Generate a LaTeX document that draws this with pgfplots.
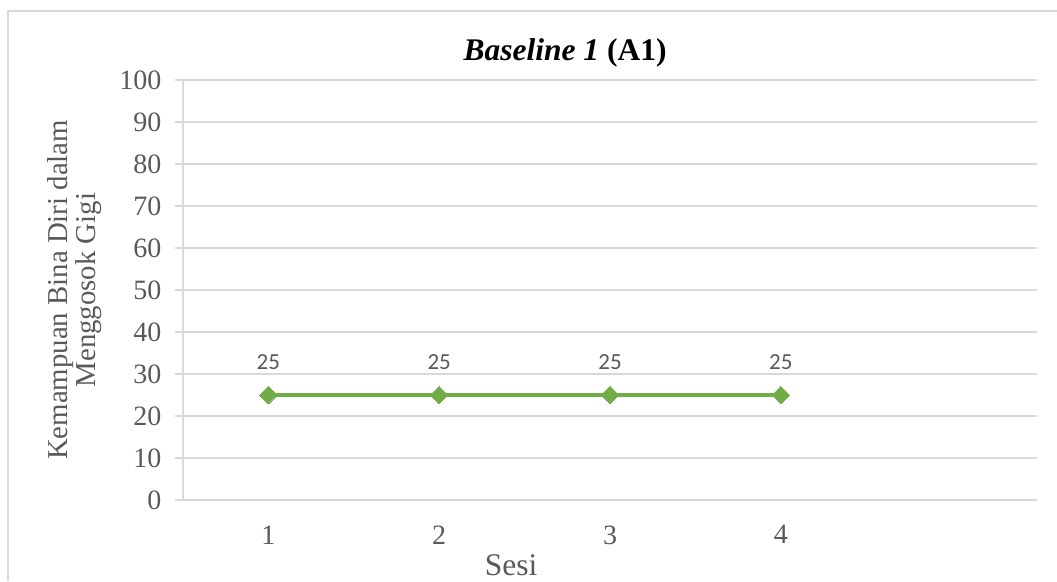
\documentclass[border=0pt]{standalone}
\usepackage{pgfplots}
\pgfplotsset{compat=1.18}
\usepackage{fontspec}
\setmainfont{Liberation Serif}
\newfontfamily\labelfont{Carlito}
\definecolor{gridgray}{HTML}{D9D9D9}
\definecolor{textgray}{HTML}{595959}
\definecolor{linegreen}{HTML}{70AD47}

\begin{document}
\begin{tikzpicture}[x=1pt,y=1pt]
  \path[use as bounding box] (0,0) rectangle (1057,581);
  % chart frame (left and top edges)
  \draw[gridgray, line width=1.2pt] (8,0) -- (8,570) -- (1057,570);

  \begin{axis}[
    at={(183pt,81pt)}, anchor=south west,
    scale only axis,
    width=854pt, height=420pt,
    xmin=0.5, xmax=5.5,
    ymin=0, ymax=100,
    xtick={1,2,3,4}, xticklabels={1,2,3,4},
    ytick={0,10,...,100},
    ymajorgrids,
    grid style={gridgray, line width=1.5pt},
    axis line style={gridgray, line width=1.5pt},
    axis x line*=bottom,
    axis y line*=left,
    major tick length=8pt,
    tick align=outside,
    x tick style={draw=none},
    y tick style={gridgray, line width=1.5pt},
    tick label style={font=\fontsize{28}{30}\selectfont, text=textgray},
    /pgf/number format/assume math mode=true,
    yticklabel style={xshift=-10pt},
    xticklabel style={yshift=-14pt},
    clip=false,
    nodes near coords,
    every node near coord/.append style={
      font=\labelfont\fontsize{23}{26}\selectfont, text=textgray, yshift=22pt},
  ]
    \addplot[linegreen, line width=3.6pt,
      mark=square*, mark size=6.2pt,
      mark options={rotate=45, fill=linegreen, draw=linegreen, line width=0pt}]
      coordinates {(1,25) (2,25) (3,25) (4,25)};
  \end{axis}

  % titles
  \node[font=\fontsize{31.5}{34}\selectfont\bfseries] at (565,528)
    {\textit{Baseline 1} (A1)};
  \node[font=\fontsize{28.8}{28}\selectfont, text=textgray, rotate=90,
        align=center] at (75,291)
    {Kemampuan Bina Diri dalam\\Menggosok Gigi};
  \node[font=\fontsize{31.5}{34}\selectfont, text=textgray] at (511,16)
    {Sesi};
\end{tikzpicture}
\end{document}
